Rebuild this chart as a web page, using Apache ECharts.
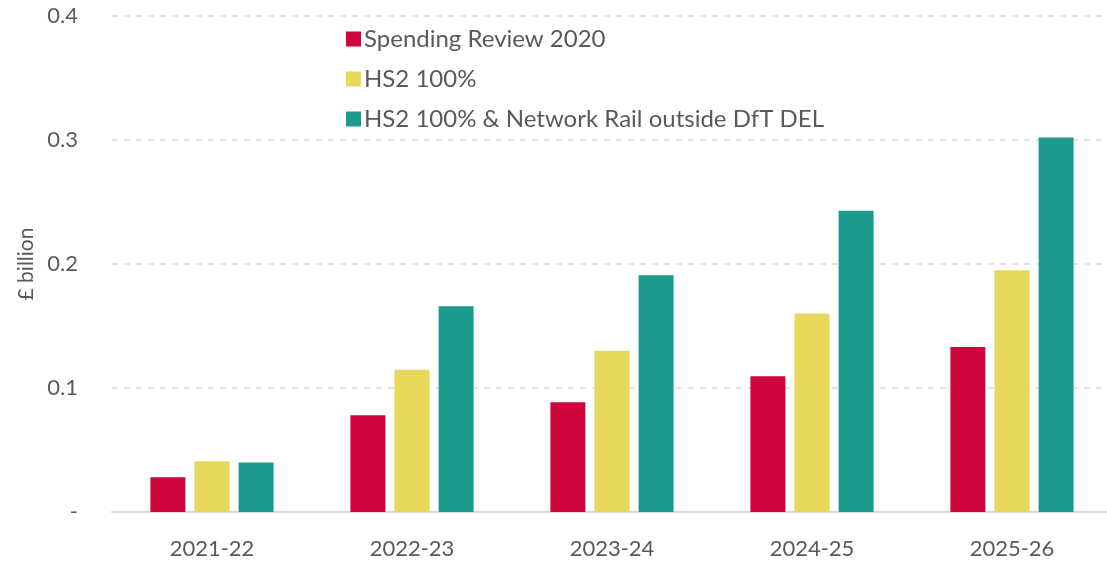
<!DOCTYPE html>
<html>
<head>
<meta charset="utf-8">
<script src="https://cdn.jsdelivr.net/npm/echarts@6/dist/echarts.min.js"></script>
<style>html,body{margin:0;padding:0;background:#fff}#c{width:1107px;height:567px}</style>
</head>
<body>
<div id="c"></div>
<script>
const categories = ['2021-22', '2022-23', '2023-24', '2024-25', '2025-26'];
const seriesNames = ['Spending Review 2020', 'HS2 100%', 'HS2 100% & Network Rail outside DfT DEL'];
const spendingReview = [0.028, 0.078, 0.0885, 0.1094, 0.133];
const hs2Full = [0.041, 0.1148, 0.130, 0.160, 0.195];
const hs2NetworkRail = [0.040, 0.166, 0.191, 0.243, 0.302];
const yTicks = [0, 0.1, 0.2, 0.3, 0.4];
const yTickLabels = ['-', '0.1', '0.2', '0.3', '0.4'];
const colors = ['#D0053B', '#E8D85A', '#1C9A8B'];

const FONT = 'Lato, "Open Sans", sans-serif';
const chart = echarts.init(document.getElementById('c'), null, {renderer: 'canvas'});
const values = [spendingReview, hs2Full, hs2NetworkRail];
chart.setOption({
  animation: false,
  color: colors,
  textStyle: {fontFamily: FONT},
  grid: {left: 112, width: 1000, top: 16, bottom: 55, containLabel: false, outerBoundsMode: 'none'},
  legend: {
    orient: 'vertical', left: 341, top: 22,
    itemWidth: 15, itemHeight: 15, itemGap: 16,
    icon: 'rect',
    textStyle: {fontSize: 24, color: '#595959', fontFamily: FONT, padding: [0,0,0,-2]},
    data: seriesNames
  },
  xAxis: {
    type: 'category', data: categories,
    axisLine: {lineStyle: {color: '#d9d9d9', width: 2}},
    axisTick: {show: false},
    axisLabel: {fontSize: 22, color: '#595959', margin: 26, fontFamily: FONT}
  },
  yAxis: {
    type: 'value', min: 0, max: 0.4, interval: 0.1,
    name: '£ billion', nameLocation: 'middle', nameGap: 73, nameRotate: 90,
    nameTextStyle: {fontSize: 21, color: '#595959', fontFamily: FONT},
    axisLine: {show: false}, axisTick: {show: false},
    axisLabel: {fontSize: 22, color: '#595959', margin: 34, fontFamily: FONT,
      formatter: v => { const i = yTicks.findIndex(t => Math.abs(t - v) < 1e-9); return i >= 0 ? yTickLabels[i] : ''; }},
    splitLine: {lineStyle: {color: '#d9d9d9', width: 1.5, type: [6, 6]}}
  },
  series: seriesNames.map((n, i) => ({
    name: n, type: 'bar', data: values[i],
    barWidth: 35, barGap: '26%',
    itemStyle: {color: colors[i]}
  }))
});
</script>
</body>
</html>
